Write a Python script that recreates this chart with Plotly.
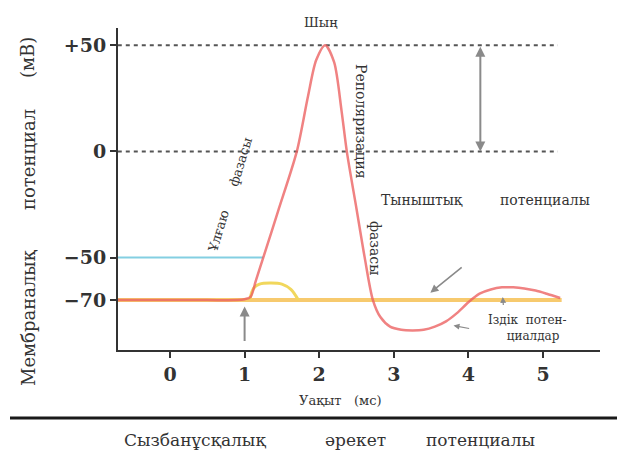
import plotly.graph_objects as go

# ---------------- data ----------------
time_ms = [-0.70, 0.00, 0.50, 0.90, 1.00, 1.08, 1.15, 1.25, 1.45, 1.70, 1.85,
           1.96, 2.08, 2.20, 2.30, 2.37, 2.50, 2.61, 2.72, 2.82,
           2.95, 3.10, 3.25, 3.40, 3.55, 3.70, 3.85, 4.00, 4.15, 4.30, 4.45,
           4.60, 4.75, 4.90, 5.05, 5.23]
membrane_mv = [-70, -70, -70, -70, -69.6, -68.5, -61, -50, -28, 0, 26,
               43, 50, 42, 19, 0, -27, -50, -70, -78,
               -82.5, -84, -84.3, -84, -82.5, -80, -76, -71, -67, -65, -64,
               -64, -64.5, -65.5, -67, -69]

rest_t = [-0.70, 5.25]
rest_mv = [-70, -70]

threshold_t = [-0.70, 1.25]
threshold_mv = [-50, -50]

local_t = [1.07, 1.12, 1.20, 1.35, 1.50, 1.62, 1.72]
local_mv = [-70, -64.5, -62.5, -62, -62.5, -65, -70]

ref_t = [-0.70, 5.20]
peak_ref_mv = [50, 50]
zero_ref_mv = [0, 0]

x_ticks = [0, 1, 2, 3, 4, 5]
x_tick_text = ["0", "1", "2", "3", "4", "5"]
y_ticks = [50, 0, -50, -70]
y_tick_text = ["+50", "0", "−50", "−70"]

# arrows: (head_t, head_mv, tail_t, tail_mv)
stim_arrow = (1.00, -73, 1.00, -90)
rest_arrow = (3.49, -66.5, 3.93, -54)
trace_arrow_low = (3.80, -82, 4.03, -83.5)
trace_arrow_high = (4.46, -68.5, 4.47, -73)
amp_arrow = (4.16, 0, 4.16, 50)

peak_label = "Шың"
rise_label = ["Ұлғаю", "фазасы"]
repol_label = ["Реполяризация", "фазасы"]
rest_label = ["Тыныштық", "потенциалы"]
trace_label = "Іздік  потен-<br>   циалдар"
x_title = "Уақыт   (мс)"
y_title = ["Мембраналық", "потенциал", "(мВ)"]
main_title = ["Сызбанұсқалық", "әрекет", "потенциалы"]

# ---------------- layout helpers ----------------
# the page body adds an 8px offset; work in window pixels and subtract it
OFF = 8
WIN_W, WIN_H = 625, 451
W, H = WIN_W - OFF, WIN_H - OFF
L, R, T, B = 118 - OFF, 600 - OFF, 28 - OFF, 350 - OFF


def px(x):
    return (x - OFF - L) / (R - L)


def py(y):
    return (B - (y - OFF)) / (B - T)


SERIF = "DejaVu Serif"
INK = "#333333"

fig = go.Figure()

fig.add_trace(go.Scatter(x=rest_t, y=rest_mv, mode="lines",
                         line=dict(color="#f7ca6e", width=4), hoverinfo="skip"))
fig.add_trace(go.Scatter(x=local_t, y=local_mv, mode="lines",
                         line=dict(color="#f1d75c", width=3, shape="spline"),
                         hoverinfo="skip"))
fig.add_trace(go.Scatter(x=threshold_t, y=threshold_mv, mode="lines",
                         line=dict(color="#84cfe2", width=2), hoverinfo="skip"))
for ref in (peak_ref_mv, zero_ref_mv):
    fig.add_trace(go.Scatter(x=ref_t, y=ref, mode="lines",
                             line=dict(color="#555555", width=2, dash="4px,4px"),
                             hoverinfo="skip"))
fig.add_trace(go.Scatter(x=time_ms, y=membrane_mv, mode="lines",
                         line=dict(color="#ec5f5f", width=2.5, shape="spline",
                                   smoothing=0.8),
                         opacity=0.78, hoverinfo="skip"))

ann = []


def arrow(a, both=False, width=1.6):
    ht, hm, tt, tm = a
    d = dict(x=ht, y=hm, ax=tt, ay=tm, xref="x", yref="y", axref="x",
             ayref="y", text="", showarrow=True, arrowhead=2, arrowsize=1,
             arrowwidth=width, arrowcolor="#8a8a8a")
    if both:
        d["arrowside"] = "end+start"
        d["startarrowhead"] = 2
    ann.append(d)


arrow(stim_arrow, width=2)
arrow(rest_arrow)
arrow(trace_arrow_low, width=1.2)
arrow(trace_arrow_high, width=1.2)
arrow(amp_arrow, both=True, width=2)


def text(t, x, y, size=13, angle=0, color=INK):
    ann.append(dict(text=t, x=px(x), y=py(y), xref="paper", yref="paper",
                    showarrow=False, textangle=angle, xanchor="center",
                    yanchor="middle",
                    font=dict(family=SERIF, size=size, color=color)))


text(peak_label, 321, 22, 13)
text(rise_label[0], 218, 231, 13, -73)
text(rise_label[1], 240, 162, 13, -73)
text(repol_label[0], 361, 121, 14, 90)
text(repol_label[1], 375, 248, 14, 90)
text(rest_label[0], 422, 200, 14)
text(rest_label[1], 545, 200, 14)
text(trace_label, 527, 328, 12)
text(x_title, 340, 400, 13)
text(y_title[0], 28, 318, 18, -90)
text(y_title[1], 28, 160, 18, -90)
text(y_title[2], 28, 58, 18, -90)
text(main_title[0], 195, 440, 17)
text(main_title[1], 355, 440, 17)
text(main_title[2], 480, 440, 17)

fig.update_layout(
    width=W, height=H,
    margin=dict(l=L, r=W - R, t=T, b=H - B, autoexpand=False),
    paper_bgcolor="white", plot_bgcolor="white",
    showlegend=False,
    annotations=ann,
    shapes=[dict(type="line", xref="paper", yref="paper",
                 x0=px(10), x1=px(625), y0=py(418), y1=py(418),
                 line=dict(color="#1a1a1a", width=3))],
    xaxis=dict(range=[-0.697, 5.764], tickvals=x_ticks, ticktext=x_tick_text,
               showgrid=False, zeroline=False, showline=True, automargin=False,
               linecolor=INK, linewidth=2, ticks="outside", ticklen=6,
               tickcolor=INK, tickwidth=1.5,
               tickfont=dict(family=SERIF, size=19, color=INK, weight="bold")),
    yaxis=dict(range=[-93.5, 58.1], tickvals=y_ticks, ticktext=y_tick_text,
               showgrid=False, zeroline=False, showline=True, automargin=False,
               linecolor=INK, linewidth=2, ticks="outside", ticklen=6,
               tickcolor=INK, tickwidth=1.5,
               tickfont=dict(family=SERIF, size=19, color=INK, weight="bold")),
)

fig.write_html("out.html")
